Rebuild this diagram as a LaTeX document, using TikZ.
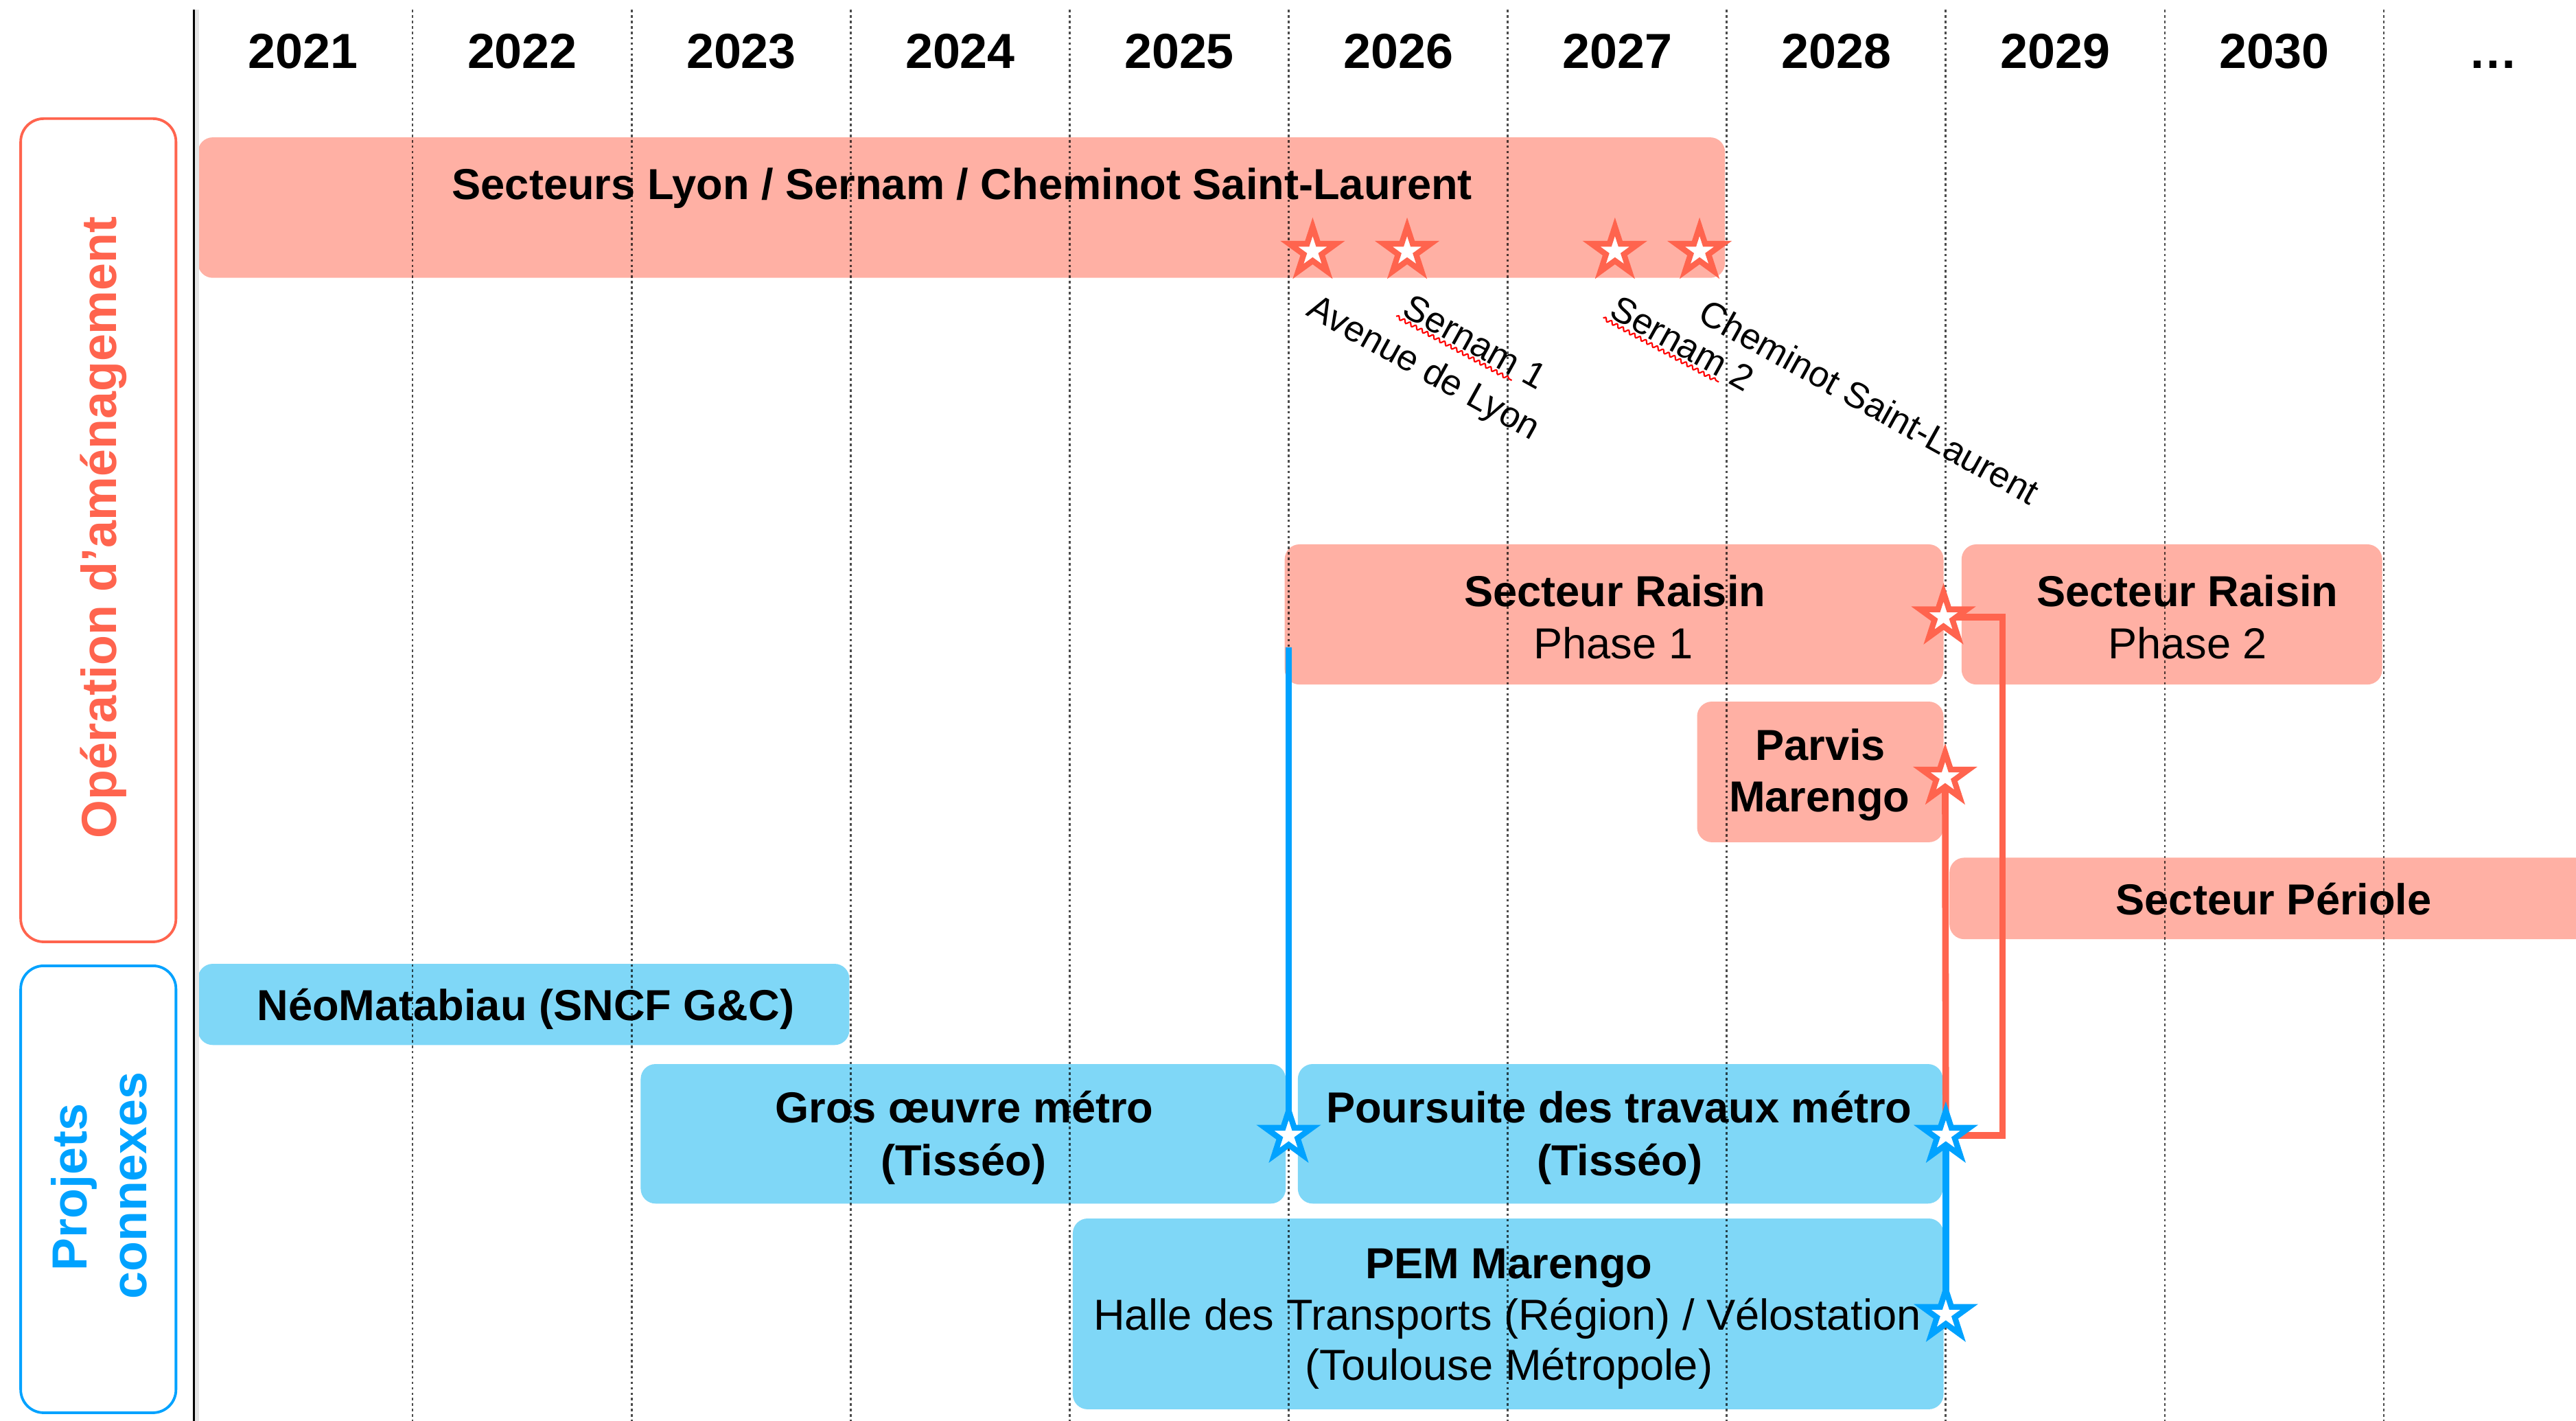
\documentclass[tikz,border=0pt]{standalone}
\usepackage{fontspec}
\setmainfont{Liberation Sans}
\usetikzlibrary{shapes.geometric,decorations.pathmorphing,calc}
\definecolor{salmonbar}{RGB}{255,176,164}
\definecolor{redline}{RGB}{255,100,78}
\definecolor{bluebar}{RGB}{127,215,247}
\definecolor{blueline}{RGB}{0,162,255}
\pgfdeclarelayer{bglayer}
\pgfdeclarelayer{connlayer}
\pgfsetlayers{bglayer,connlayer,main}
\begin{document}
\begin{tikzpicture}[x=1pt,y=-1pt,
  barshape/.style={rounded corners=9pt, draw=none, inner sep=0pt, outer sep=0pt, anchor=north west},
  rbar/.style={barshape, fill=salmonbar},
  bbar/.style={barshape, fill=bluebar},
  labbox/.style={rounded corners=14pt, line width=1.6pt, fill=none, inner sep=0pt, anchor=north west, minimum width=94.5pt},
  bt/.style={font=\fontsize{26.4}{31.7}\selectfont\bfseries, anchor=base, inner sep=0pt},
  rt/.style={font=\fontsize{26.4}{31.7}\selectfont, anchor=base, inner sep=0pt},
  yt/.style={font=\fontsize{30}{36}\selectfont\bfseries, anchor=base, inner sep=0pt},
  dt/.style={font=\fontsize{22}{26}\selectfont, rotate=-29, inner sep=0pt},
  sidet/.style={font=\fontsize{30}{36}\selectfont\bfseries, rotate=90, anchor=base, inner sep=0pt},
  starr/.style={star, star points=5, star point ratio=2.618, minimum size=30pt, inner sep=0pt, fill=white, line width=3.5pt, draw=redline},
  starb/.style={starr, draw=blueline},
  rconn/.style={line width=4pt, draw=redline},
  bconn/.style={line width=4pt, draw=blueline},
  gridl/.style={line width=1pt, dash pattern=on 1.5pt off 1.8pt, black, opacity=.7},
  squig/.style={draw=red, line width=0.9pt, decorate, decoration={snake, segment length=4pt, amplitude=1pt}}
]
\useasboundingbox (0,0) rectangle (1568,864.43);

\begin{pgfonlayer}{bglayer}
\begin{scope}
\clip (0,0) rectangle (1568,864.43);
\fill[white] (0,0) rectangle (1568,864.43);
% side label boxes
\node[labbox, draw=redline, minimum height=501pt] (opbox) at (11.8,71.4) {};
\node[labbox, draw=blueline, minimum height=272pt] (pcbox) at (11.8,587) {};
% bars
\node[rbar, minimum width=929.5pt, minimum height=85.5pt] (secteurs) at (120.5,83.6) {};
\node[rbar, minimum width=401pt, minimum height=85.3pt] (raisin1) at (782,331.3) {};
\node[rbar, minimum width=256pt, minimum height=85.3pt] (raisin2) at (1194,331.3) {};
\node[rbar, minimum width=150pt, minimum height=85.6pt] (parvis) at (1033,427) {};
\node[rbar, minimum width=420pt, minimum height=49.6pt] (periole) at (1186.6,522) {};
\node[bbar, minimum width=396.5pt, minimum height=49.4pt] (neo) at (120.5,586.6) {};
\node[bbar, minimum width=392.6pt, minimum height=84.9pt] (gros) at (390,647.6) {};
\node[bbar, minimum width=392.5pt, minimum height=84.9pt] (poursuite) at (790,647.6) {};
\node[bbar, minimum width=530pt, minimum height=116.1pt] (pem) at (653,741.6) {};
% grid
\draw[gray!20, line width=2.5pt] (119.9,6) -- (119.9,870);
\draw[line width=1.3pt] (117.9,6) -- (117.9,870);
\foreach \k in {1,...,10} {\draw[gridl] ({117.9+133.3*\k},6) -- ({117.9+133.3*\k},870);}
\end{scope}
\end{pgfonlayer}

% years
\foreach \yr [count=\i from 0] in {2021,2022,...,2030} {\node[yt] (y\yr) at ({184.6+133.3*\i},41.5) {\yr};}
\node[yt] (ydots) at (1517.5,41.5) {…};

% stars
\node[starr] (st1) at (799,153) {};
\node[starr] (st2) at (856.5,153) {};
\node[starr] (st3) at (983,153) {};
\node[starr] (st4) at (1034.5,153) {};
\node[starr] (st5) at (1183,375.5) {};
\node[starr] (st6) at (1184,473) {};
\node[starb] (st7) at (784.4,691) {};
\node[starb] (st8) at (1184.4,691) {};
\node[starb] (st9) at (1184.4,800) {};

% connectors (drawn beneath the stars)
\coordinate (rstart) at (784.4,394);
\begin{pgfonlayer}{connlayer}
\draw[bconn] (rstart) -- (st7.center);
\draw[rconn] (st6.center) -- (st8.center);
\draw[rconn] (st5.center) -- ++(36,0) |- (st8.center);
\draw[bconn] (st8.center) -- (st9.center);
\end{pgfonlayer}

% side labels
\node[sidet, text=redline] (optxt) at (71,321) {Opération d’aménagement};
\node[sidet, text=blueline] (pctxt1) at (53,722.5) {Projets};
\node[sidet, text=blueline] (pctxt2) at (89,721.5) {connexes};

% bar texts
\node[bt] (tsect) at (585.7,121.2) {Secteurs Lyon / Sernam / Cheminot Saint-Laurent};
\node[bt] (tr1a) at (983,369.3) {Secteur Raisin};
\node[rt] (tr1b) at (982,401) {Phase 1};
\node[bt] (tr2a) at (1331.5,369.3) {Secteur Raisin};
\node[rt] (tr2b) at (1331.5,401) {Phase 2};
\node[bt] (tpa) at (1108,462.5) {Parvis};
\node[bt] (tpb) at (1107.5,494) {Marengo};
\node[bt] (tper) at (1384,556.6) {Secteur Périole};
\node[bt] (tneo) at (320,621) {NéoMatabiau (SNCF G\&C)};
\node[bt] (tga) at (587,683.5) {Gros œuvre métro};
\node[bt] (tgb) at (586.5,715.6) {(Tisséo)};
\node[bt] (tpoa) at (985.5,683.5) {Poursuite des travaux métro};
\node[bt] (tpob) at (986,715.6) {(Tisséo)};
\node[bt] (tpema) at (918.5,778) {PEM Marengo};
\node[rt] (tpemb) at (917.5,809.3) {Halle des Transports (Région) / Vélostation};
\node[rt] (tpemc) at (918.5,840) {(Toulouse Métropole)};

% diagonal labels
\node[dt] (lav) at (866,225) {Avenue de Lyon};
\node[dt, outer sep=2pt] (ls1) at (898,208) {Sernam 1};
\node[dt, outer sep=2pt] (ls2) at (1024,209) {Sernam 2};
\node[dt] (lch) at (1138,244.5) {Cheminot Saint-Laurent};
\draw[squig] (ls1.south west) -- ($(ls1.south west)!0.81!(ls1.south east)$);
\draw[squig] (ls2.south west) -- ($(ls2.south west)!0.81!(ls2.south east)$);
\end{tikzpicture}
\end{document}
